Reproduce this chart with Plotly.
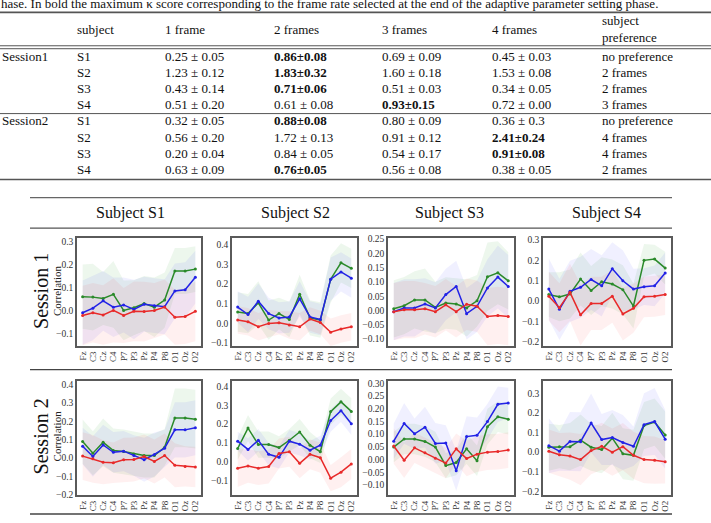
import plotly.graph_objects as go

W, H = 711, 523

# ---------------- table data ----------------
table_header = ["subject", "1 frame", "2 frames", "3 frames", "4 frames"]
sessions = ["Session1", "Session2"]
subjects = ["S1", "S2", "S3", "S4"]
mean_1frame = [0.25, 1.23, 0.43, 0.51, 0.32, 0.56, 0.20, 0.63]
std_1frame = ["0.05", "0.12", "0.14", "0.20", "0.05", "0.20", "0.04", "0.09"]
mean_2frames = [0.86, 1.83, 0.71, 0.61, 0.88, 1.72, 0.84, 0.76]
std_2frames = ["0.08", "0.32", "0.06", "0.08", "0.08", "0.13", "0.05", "0.05"]
mean_3frames = [0.69, 1.60, 0.51, 0.93, 0.80, 0.91, 0.54, 0.56]
std_3frames = ["0.09", "0.18", "0.03", "0.15", "0.09", "0.12", "0.17", "0.08"]
mean_4frames = [0.45, 1.53, 0.34, 0.72, 0.36, 2.41, 0.91, 0.38]
std_4frames = ["0.03", "0.08", "0.05", "0.00", "0.3", "0.24", "0.08", "0.05"]
bold_col = [2, 2, 2, 3, 2, 4, 4, 2]   # which frame column is bold per row (1..4)
preference = ["no preference", "2 frames", "2 frames", "3 frames",
              "no preference", "4 frames", "4 frames", "2 frames"]

# ---------------- chart data ----------------
channels = ["Fz", "C3", "Cz", "C4", "P7", "P3", "Pz", "P4", "P8", "O1", "Oz", "O2"]
subject_titles = ["Subject S1", "Subject S2", "Subject S3", "Subject S4"]
row_titles = ["Session 1", "Session 2"]

# Session 1
s1_1_green = [0.060, 0.058, 0.052, 0.070, 0.000, 0.012, 0.030, 0.014, 0.045, 0.172, 0.172, 0.180]
s1_1_blue = [-0.010, 0.010, 0.042, 0.014, 0.024, 0.004, 0.027, 0.020, 0.016, 0.085, 0.090, 0.145]
s1_1_red = [-0.022, -0.010, -0.020, 0.000, -0.022, -0.004, -0.005, 0.000, 0.015, -0.030, -0.026, -0.004]
s1_1_green_sd = [0.14, 0.145, 0.115, 0.145, 0.13, 0.12, 0.12, 0.13, 0.12, 0.10, 0.10, 0.10]
s1_1_blue_sd = [0.14, 0.14, 0.13, 0.13, 0.12, 0.13, 0.12, 0.12, 0.12, 0.12, 0.12, 0.115]
s1_1_red_sd = [0.13, 0.13, 0.13, 0.14, 0.12, 0.13, 0.13, 0.12, 0.12, 0.12, 0.12, 0.13]

s2_1_green = [0.058, 0.050, 0.105, 0.017, 0.050, 0.020, 0.148, 0.028, 0.017, 0.225, 0.308, 0.280]
s2_1_blue = [0.083, 0.045, 0.113, 0.050, 0.028, 0.033, 0.125, 0.033, 0.020, 0.225, 0.262, 0.230]
s2_1_red = [0.017, 0.008, -0.017, 0.000, 0.003, -0.008, -0.017, 0.022, 0.005, -0.045, -0.028, -0.017]
s2_1_green_sd = [0.10, 0.10, 0.11, 0.10, 0.08, 0.09, 0.10, 0.09, 0.09, 0.12, 0.10, 0.10]
s2_1_blue_sd = [0.08, 0.09, 0.09, 0.08, 0.08, 0.08, 0.09, 0.08, 0.08, 0.11, 0.10, 0.10]
s2_1_red_sd = [0.07, 0.07, 0.07, 0.07, 0.06, 0.07, 0.07, 0.06, 0.06, 0.07, 0.07, 0.07]

s3_1_green = [0.006, 0.017, 0.037, 0.037, 0.011, 0.026, 0.023, 0.009, 0.034, 0.118, 0.132, 0.104]
s3_1_blue = [-0.004, 0.009, 0.009, 0.023, 0.009, 0.056, 0.084, -0.011, 0.015, 0.079, 0.117, 0.084]
s3_1_red = [-0.004, 0.003, 0.003, 0.006, -0.004, 0.020, -0.004, 0.022, 0.015, -0.021, -0.017, -0.021]
s3_1_green_sd = [0.10, 0.10, 0.10, 0.11, 0.09, 0.09, 0.09, 0.10, 0.09, 0.12, 0.11, 0.10]
s3_1_blue_sd = [0.10, 0.10, 0.10, 0.09, 0.09, 0.09, 0.09, 0.09, 0.09, 0.10, 0.11, 0.11]
s3_1_red_sd = [0.10, 0.10, 0.10, 0.09, 0.09, 0.09, 0.09, 0.09, 0.09, 0.10, 0.10, 0.10]

s4_1_green = [0.032, 0.021, 0.035, 0.108, 0.052, 0.095, 0.084, 0.056, -0.024, 0.200, 0.206, 0.162]
s4_1_blue = [0.059, -0.040, 0.048, 0.068, 0.106, 0.075, 0.159, 0.100, 0.059, 0.071, 0.075, 0.138]
s4_1_red = [0.024, -0.032, 0.043, -0.067, -0.011, -0.011, 0.024, -0.063, -0.035, 0.021, 0.024, 0.032]
s4_1_green_sd = [0.11, 0.12, 0.12, 0.13, 0.12, 0.12, 0.12, 0.12, 0.11, 0.08, 0.07, 0.08]
s4_1_blue_sd = [0.15, 0.15, 0.15, 0.15, 0.15, 0.15, 0.13, 0.15, 0.10, 0.09, 0.10, 0.10]
s4_1_red_sd = [0.12, 0.12, 0.14, 0.15, 0.13, 0.13, 0.13, 0.13, 0.12, 0.10, 0.10, 0.10]

# Session 2
s1_2_green = [0.090, 0.027, 0.086, 0.041, 0.036, 0.023, 0.014, 0.014, 0.059, 0.219, 0.219, 0.212]
s1_2_blue = [0.065, 0.009, 0.072, 0.032, 0.038, 0.014, -0.009, 0.020, 0.054, 0.154, 0.154, 0.165]
s1_2_red = [0.011, -0.004, -0.022, -0.025, -0.009, -0.007, 0.009, -0.018, 0.014, -0.039, -0.045, -0.048]
s1_2_green_sd = [0.12, 0.12, 0.13, 0.12, 0.12, 0.12, 0.12, 0.12, 0.10, 0.16, 0.16, 0.16]
s1_2_blue_sd = [0.10, 0.11, 0.11, 0.11, 0.11, 0.11, 0.12, 0.12, 0.10, 0.15, 0.15, 0.15]
s1_2_red_sd = [0.13, 0.13, 0.12, 0.11, 0.12, 0.12, 0.12, 0.12, 0.12, 0.12, 0.11, 0.11]

s2_2_green = [0.070, 0.179, 0.091, 0.091, 0.075, 0.114, 0.158, 0.088, 0.053, 0.267, 0.319, 0.268]
s2_2_blue = [0.109, 0.065, 0.114, 0.039, 0.023, 0.109, 0.093, 0.061, 0.088, 0.219, 0.272, 0.202]
s2_2_red = [-0.035, -0.023, -0.035, -0.026, 0.044, 0.053, -0.009, 0.039, 0.021, -0.088, -0.056, -0.012]
s2_2_green_sd = [0.06, 0.07, 0.07, 0.07, 0.06, 0.06, 0.07, 0.07, 0.06, 0.07, 0.07, 0.07]
s2_2_blue_sd = [0.05, 0.06, 0.06, 0.06, 0.06, 0.06, 0.06, 0.05, 0.05, 0.06, 0.06, 0.06]
s2_2_red_sd = [0.10, 0.09, 0.09, 0.09, 0.08, 0.08, 0.08, 0.08, 0.08, 0.07, 0.08, 0.08]

s3_2_green = [0.049, 0.081, 0.081, 0.071, 0.049, -0.024, -0.012, 0.042, -0.005, 0.129, 0.168, 0.158]
s3_2_blue = [0.072, 0.142, 0.101, 0.127, 0.063, 0.065, -0.044, 0.090, 0.095, 0.149, 0.217, 0.222]
s3_2_red = [0.053, -0.003, 0.046, 0.027, 0.005, -0.014, 0.042, 0.004, 0.021, 0.029, 0.031, 0.037]
s3_2_green_sd = [0.06, 0.06, 0.06, 0.06, 0.06, 0.05, 0.05, 0.06, 0.06, 0.07, 0.06, 0.06]
s3_2_blue_sd = [0.07, 0.08, 0.06, 0.08, 0.08, 0.07, 0.08, 0.08, 0.07, 0.07, 0.07, 0.06]
s3_2_red_sd = [0.07, 0.07, 0.06, 0.06, 0.06, 0.06, 0.06, 0.07, 0.07, 0.07, 0.07, 0.07]

s4_2_green = [0.025, 0.028, 0.028, 0.061, 0.025, 0.013, 0.071, -0.008, -0.016, 0.135, 0.153, 0.087]
s4_2_blue = [0.033, 0.005, 0.054, 0.053, 0.148, 0.064, 0.074, 0.049, 0.030, 0.140, 0.156, 0.066]
s4_2_red = [0.005, -0.013, -0.020, -0.038, 0.008, 0.030, 0.000, 0.028, -0.016, -0.038, -0.041, -0.049]
s4_2_green_sd = [0.12, 0.11, 0.12, 0.13, 0.12, 0.12, 0.13, 0.13, 0.13, 0.12, 0.12, 0.12]
s4_2_blue_sd = [0.14, 0.10, 0.15, 0.15, 0.15, 0.13, 0.14, 0.14, 0.10, 0.16, 0.17, 0.15]
s4_2_red_sd = [0.11, 0.11, 0.12, 0.13, 0.12, 0.12, 0.12, 0.12, 0.12, 0.12, 0.12, 0.11]

panels = [
    # (row, col, green, blue, red, green_sd, blue_sd, red_sd)
    (0, 0, s1_1_green, s1_1_blue, s1_1_red, s1_1_green_sd, s1_1_blue_sd, s1_1_red_sd),
    (0, 1, s2_1_green, s2_1_blue, s2_1_red, s2_1_green_sd, s2_1_blue_sd, s2_1_red_sd),
    (0, 2, s3_1_green, s3_1_blue, s3_1_red, s3_1_green_sd, s3_1_blue_sd, s3_1_red_sd),
    (0, 3, s4_1_green, s4_1_blue, s4_1_red, s4_1_green_sd, s4_1_blue_sd, s4_1_red_sd),
    (1, 0, s1_2_green, s1_2_blue, s1_2_red, s1_2_green_sd, s1_2_blue_sd, s1_2_red_sd),
    (1, 1, s2_2_green, s2_2_blue, s2_2_red, s2_2_green_sd, s2_2_blue_sd, s2_2_red_sd),
    (1, 2, s3_2_green, s3_2_blue, s3_2_red, s3_2_green_sd, s3_2_blue_sd, s3_2_red_sd),
    (1, 3, s4_2_green, s4_2_blue, s4_2_red, s4_2_green_sd, s4_2_blue_sd, s4_2_red_sd),
]

# ---------------- layout / style ----------------
SERIF = "Liberation Serif"
LINE_COL = {"green": "#2a8a2a", "blue": "#2222e6", "red": "#e82a2a"}
BAND_COL = {"green": "rgba(0,140,0,0.07)", "blue": "rgba(0,0,255,0.06)", "red": "rgba(255,0,0,0.06)"}

col_px = [(77, 201), (232, 357), (388, 514), (543, 671)]
row_px = [(238, 348), (384, 500)]
y_ranges = [
    [(-0.155, 0.316), (-0.115, 0.435), (-0.124, 0.254), (-0.22, 0.31)],
    [(-0.203, 0.418), (-0.18, 0.428), (-0.141, 0.307), (-0.22, 0.36)],
]
y_dtick = [[0.1, 0.1, 0.05, 0.1], [0.1, 0.1, 0.05, 0.1]]
y_fmt = [[".1f", ".1f", ".2f", ".1f"], [".1f", ".1f", ".2f", ".1f"]]


def px(x):
    return x / W


def py(y):
    return 1 - y / H


fig = go.Figure()
x_idx = list(range(len(channels)))
layout_axes = {}

for i, (r, c, g, b, rd, gsd, bsd, rsd) in enumerate(panels):
    n = i + 1
    xa = "x" if n == 1 else f"x{n}"
    ya = "y" if n == 1 else f"y{n}"
    # bands
    for name, mean, sd in (("green", g, gsd), ("blue", b, bsd), ("red", rd, rsd)):
        upper = [m + s for m, s in zip(mean, sd)]
        lower = [m - s for m, s in zip(mean, sd)]
        fig.add_trace(go.Scatter(
            x=x_idx + x_idx[::-1], y=upper + lower[::-1], fill="toself",
            fillcolor=BAND_COL[name], line=dict(width=0), mode="lines",
            hoverinfo="skip", showlegend=False, xaxis=xa, yaxis=ya))
    # lines
    for name, mean in (("green", g), ("blue", b), ("red", rd)):
        fig.add_trace(go.Scatter(
            x=x_idx, y=mean, mode="lines+markers",
            line=dict(color=LINE_COL[name], width=1.5),
            marker=dict(color=LINE_COL[name], size=3),
            showlegend=False, xaxis=xa, yaxis=ya))

    x0, x1 = col_px[c]
    y0, y1 = row_px[r]
    key_x = "xaxis" if n == 1 else f"xaxis{n}"
    key_y = "yaxis" if n == 1 else f"yaxis{n}"
    layout_axes[key_x] = dict(
        domain=[px(x0), px(x1)], anchor=ya, range=[-0.55, 11.55],
        tickmode="array", tickvals=x_idx, ticktext=channels, tickangle=-90,
        tickfont=dict(family=SERIF, size=9, color="#333"),
        showgrid=False, zeroline=False, showline=True, mirror=True,
        linecolor="#5a5a5a", linewidth=1.6, ticks="", ticklen=0,
    )
    lo, hi = y_ranges[r][c]
    layout_axes[key_y] = dict(
        domain=[py(y1), py(y0)], anchor=xa, range=[lo, hi],
        dtick=y_dtick[r][c], tick0=0, tickformat=y_fmt[r][c],
        tickfont=dict(family=SERIF, size=9.5, color="#333"),
        showgrid=False, zeroline=False, showline=True, mirror=True,
        linecolor="#5a5a5a", linewidth=1.6, ticks="", ticklen=0,
    )

annotations = []
# caption (partly cut at top)
annotations.append(dict(
    x=px(-1), y=py(-1), xref="paper", yref="paper", xanchor="left", yanchor="middle",
    text="hase. In bold the maximum \u03ba score corresponding to the frame rate selected at the end of the adaptive parameter setting phase.",
    showarrow=False, font=dict(family=SERIF, size=13, color="#111")))

# table header
head_x = [75, 163, 272, 380, 490]
for hx, ht in zip(head_x, table_header):
    annotations.append(dict(x=px(hx), y=py(26), xref="paper", yref="paper",
                            xanchor="left", yanchor="middle", text=ht, showarrow=False,
                            font=dict(family=SERIF, size=13, color="#111")))
annotations.append(dict(x=px(600), y=py(17), xref="paper", yref="paper",
                        xanchor="left", yanchor="middle", text="subject", showarrow=False,
                        font=dict(family=SERIF, size=13, color="#111")))
annotations.append(dict(x=px(600), y=py(34), xref="paper", yref="paper",
                        xanchor="left", yanchor="middle", text="preference", showarrow=False,
                        font=dict(family=SERIF, size=13, color="#111")))

row_y = [53, 69.5, 86, 102.5, 119, 135.5, 152, 168.5]
val_x = [163, 272, 380, 490]
cols_mean = [mean_1frame, mean_2frames, mean_3frames, mean_4frames]
cols_std = [std_1frame, std_2frames, std_3frames, std_4frames]
for k in range(8):
    yy = py(row_y[k])
    if k % 4 == 0:
        annotations.append(dict(x=px(0), y=yy, xref="paper", yref="paper", xanchor="left",
                                yanchor="middle", text=sessions[k // 4], showarrow=False,
                                font=dict(family=SERIF, size=13, color="#111")))
    annotations.append(dict(x=px(75), y=yy, xref="paper", yref="paper", xanchor="left",
                            yanchor="middle", text=subjects[k % 4], showarrow=False,
                            font=dict(family=SERIF, size=13, color="#111")))
    for j in range(4):
        m = f"{cols_mean[j][k]:.2f}"
        s = cols_std[j][k]
        if bold_col[k] == j + 1:
            txt = f"<b>{m}\u00b1{s}</b>"
        else:
            txt = f"{m} \u00b1 {s}"
        annotations.append(dict(x=px(val_x[j]), y=yy, xref="paper", yref="paper",
                                xanchor="left", yanchor="middle", text=txt, showarrow=False,
                                font=dict(family=SERIF, size=13, color="#111")))
    annotations.append(dict(x=px(600), y=yy, xref="paper", yref="paper", xanchor="left",
                            yanchor="middle", text=preference[k], showarrow=False,
                            font=dict(family=SERIF, size=13, color="#111")))

# subject titles
title_x = [130, 295, 449, 606]
for tx, tt in zip(title_x, subject_titles):
    annotations.append(dict(x=px(tx), y=py(213), xref="paper", yref="paper",
                            xanchor="center", yanchor="middle", text=tt, showarrow=False,
                            font=dict(family=SERIF, size=16, color="#111")))
# row titles
row_cy = [292, 440]
for ry, rt in zip(row_cy, row_titles):
    annotations.append(dict(x=px(41), y=py(ry), xref="paper", yref="paper",
                            xanchor="center", yanchor="middle", text=rt, textangle=-90,
                            showarrow=False, font=dict(family=SERIF, size=20, color="#111")))
    annotations.append(dict(x=px(57), y=py(ry), xref="paper", yref="paper",
                            xanchor="center", yanchor="middle", text="Correlation", textangle=-90,
                            showarrow=False, font=dict(family=SERIF, size=11, color="#222")))

shapes = []


def hline(y, xa, xb, w=1.2, color="#555"):
    shapes.append(dict(type="line", xref="paper", yref="paper", x0=px(xa), x1=px(xb),
                       y0=py(y), y1=py(y), line=dict(color=color, width=w)))


# table rules
hline(8.5, 0, 711, 1.6)
hline(42.5, 0, 711, 1.0)
hline(45.5, 0, 711, 1.0)
hline(111.5, 0, 711, 1.0)
hline(178.5, 0, 711, 1.6)
# figure rules
hline(197, 30, 672, 1.2, "#666")
hline(228, 30, 672, 1.3, "#555")
hline(372, 30, 672, 1.3, "#444")
hline(519, 30, 672, 1.6, "#444")

fig.update_layout(
    width=W, height=H, margin=dict(l=0, r=0, t=0, b=0),
    paper_bgcolor="white", plot_bgcolor="white",
    annotations=annotations, shapes=shapes, showlegend=False,
    **layout_axes,
)

fig.write_html("out.html")
